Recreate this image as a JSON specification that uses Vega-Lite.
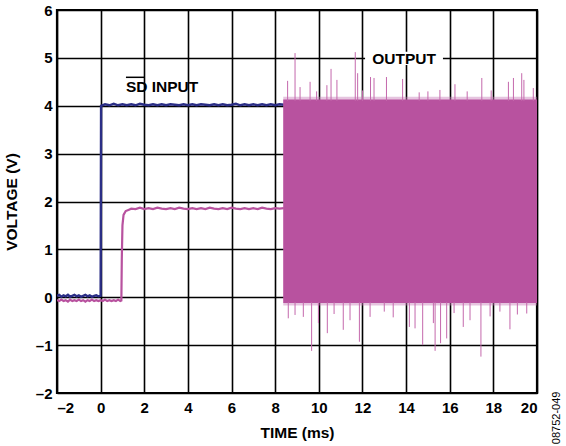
{
  "$schema": "https://vega.github.io/schema/vega-lite/v6.json",
  "width": 480,
  "height": 383,
  "autosize": {"type": "none"},
  "padding": {"left": 57, "top": 10, "right": 29, "bottom": 53},
  "background": "white",
  "config": {
    "view": {"stroke": "black", "strokeWidth": 2.2},
    "font": "Liberation Sans",
    "axis": {
      "grid": true, "gridColor": "black", "gridWidth": 1.6, "gridOpacity": 1,
      "domain": false, "ticks": false,
      "labelFont": "Liberation Sans", "labelFontWeight": "bold", "labelFontSize": 15, "labelColor": "black",
      "titleFont": "Liberation Sans", "titleFontWeight": "bold", "titleFontSize": 15.5, "titleColor": "black",
      "labelExpr": "datum.value < 0 ? '–' + abs(datum.value) : datum.label"
    }
  },
  "datasets": {
    "sd": [
      {"t": -2.0, "v": 0.03}, {"t": -1.9, "v": 0.05}, {"t": -1.8, "v": 0.01}, {"t": -1.7, "v": 0.04},
      {"t": -1.6, "v": 0.02}, {"t": -1.5, "v": 0.05}, {"t": -1.4, "v": 0.01}, {"t": -1.3, "v": 0.03},
      {"t": -1.2, "v": 0.05}, {"t": -1.1, "v": 0.02}, {"t": -1.0, "v": 0.04}, {"t": -0.9, "v": 0.01},
      {"t": -0.8, "v": 0.03}, {"t": -0.7, "v": 0.05}, {"t": -0.6, "v": 0.02}, {"t": -0.5, "v": 0.04},
      {"t": -0.4, "v": 0.01}, {"t": -0.3, "v": 0.03}, {"t": -0.2, "v": 0.04}, {"t": -0.1, "v": 0.02},
      {"t": 0.0, "v": 0.03}, {"t": 0.02, "v": 4.0},
      {"t": 0.2, "v": 4.03}, {"t": 0.4, "v": 4.01}, {"t": 0.6, "v": 4.04}, {"t": 0.8, "v": 4.01},
      {"t": 1.0, "v": 4.03}, {"t": 1.2, "v": 4.01}, {"t": 1.4, "v": 4.03}, {"t": 1.6, "v": 4.01},
      {"t": 1.8, "v": 4.04}, {"t": 2.0, "v": 4.02}, {"t": 2.2, "v": 4.01}, {"t": 2.4, "v": 4.03},
      {"t": 2.6, "v": 4.01}, {"t": 2.8, "v": 4.03}, {"t": 3.0, "v": 4.01}, {"t": 3.2, "v": 4.03},
      {"t": 3.4, "v": 4.02}, {"t": 3.6, "v": 4.01}, {"t": 3.8, "v": 4.03}, {"t": 4.0, "v": 4.01},
      {"t": 4.2, "v": 4.03}, {"t": 4.4, "v": 4.01}, {"t": 4.6, "v": 4.03}, {"t": 4.8, "v": 4.02},
      {"t": 5.0, "v": 4.01}, {"t": 5.2, "v": 4.03}, {"t": 5.4, "v": 4.01}, {"t": 5.6, "v": 4.03},
      {"t": 5.8, "v": 4.01}, {"t": 6.0, "v": 4.02}, {"t": 6.2, "v": 4.04}, {"t": 6.4, "v": 4.01},
      {"t": 6.6, "v": 4.03}, {"t": 6.8, "v": 4.01}, {"t": 7.0, "v": 4.03}, {"t": 7.2, "v": 4.01},
      {"t": 7.4, "v": 4.03}, {"t": 7.6, "v": 4.01}, {"t": 7.8, "v": 4.03}, {"t": 8.0, "v": 4.01},
      {"t": 8.2, "v": 4.03}, {"t": 8.4, "v": 4.02}
    ],
    "outpre": [
      {"t": -2.0, "v": -0.06}, {"t": -1.9, "v": -0.08}, {"t": -1.8, "v": -0.05}, {"t": -1.7, "v": -0.08},
      {"t": -1.6, "v": -0.06}, {"t": -1.5, "v": -0.09}, {"t": -1.4, "v": -0.05}, {"t": -1.3, "v": -0.08},
      {"t": -1.2, "v": -0.06}, {"t": -1.1, "v": -0.08}, {"t": -1.0, "v": -0.05}, {"t": -0.9, "v": -0.08},
      {"t": -0.8, "v": -0.06}, {"t": -0.7, "v": -0.09}, {"t": -0.6, "v": -0.06}, {"t": -0.5, "v": -0.08},
      {"t": -0.4, "v": -0.05}, {"t": -0.3, "v": -0.08}, {"t": -0.2, "v": -0.06}, {"t": -0.1, "v": -0.08},
      {"t": 0.0, "v": -0.06}, {"t": 0.1, "v": -0.08}, {"t": 0.2, "v": -0.05}, {"t": 0.3, "v": -0.08},
      {"t": 0.4, "v": -0.06}, {"t": 0.5, "v": -0.08}, {"t": 0.6, "v": -0.06}, {"t": 0.7, "v": -0.08},
      {"t": 0.8, "v": -0.05}, {"t": 0.9, "v": -0.08}, {"t": 0.95, "v": -0.07},
      {"t": 0.97, "v": 0.8}, {"t": 1.0, "v": 1.5}, {"t": 1.05, "v": 1.72}, {"t": 1.15, "v": 1.8},
      {"t": 1.3, "v": 1.83}, {"t": 1.4, "v": 1.85},
      {"t": 1.6, "v": 1.84}, {"t": 1.8, "v": 1.87}, {"t": 2.0, "v": 1.84}, {"t": 2.2, "v": 1.86},
      {"t": 2.4, "v": 1.84}, {"t": 2.6, "v": 1.87}, {"t": 2.8, "v": 1.85}, {"t": 3.0, "v": 1.84},
      {"t": 3.2, "v": 1.86}, {"t": 3.4, "v": 1.84}, {"t": 3.6, "v": 1.87}, {"t": 3.8, "v": 1.85},
      {"t": 4.0, "v": 1.84}, {"t": 4.2, "v": 1.86}, {"t": 4.4, "v": 1.84}, {"t": 4.6, "v": 1.86},
      {"t": 4.8, "v": 1.84}, {"t": 5.0, "v": 1.87}, {"t": 5.2, "v": 1.85}, {"t": 5.4, "v": 1.84},
      {"t": 5.6, "v": 1.86}, {"t": 5.8, "v": 1.84}, {"t": 6.0, "v": 1.87}, {"t": 6.2, "v": 1.85},
      {"t": 6.4, "v": 1.84}, {"t": 6.6, "v": 1.86}, {"t": 6.8, "v": 1.84}, {"t": 7.0, "v": 1.86},
      {"t": 7.2, "v": 1.84}, {"t": 7.4, "v": 1.87}, {"t": 7.6, "v": 1.85}, {"t": 7.8, "v": 1.84},
      {"t": 8.0, "v": 1.86}, {"t": 8.2, "v": 1.85}, {"t": 8.4, "v": 1.86}
    ],
    "band": [
      {"t": 8.37, "lo": -0.12, "hi": 4.13},
      {"t": 20.0, "lo": -0.12, "hi": 4.13}
    ],
    "rag": [
      {"t": 8.37, "lo": -0.17, "hi": 4.19},
      {"t": 20.0, "lo": -0.17, "hi": 4.19}
    ],
    "spikes": [
      {"t": 8.57, "lo": 4.1, "hi": 4.52}, {"t": 8.91, "lo": 4.1, "hi": 5.1}, {"t": 9.14, "lo": 4.1, "hi": 4.39},
      {"t": 9.6, "lo": 4.1, "hi": 4.5}, {"t": 10.37, "lo": 4.1, "hi": 4.43}, {"t": 10.56, "lo": 4.1, "hi": 4.77},
      {"t": 10.83, "lo": 4.1, "hi": 4.54}, {"t": 11.67, "lo": 4.1, "hi": 5.12}, {"t": 11.78, "lo": 4.1, "hi": 4.68},
      {"t": 12.37, "lo": 4.1, "hi": 4.6}, {"t": 12.53, "lo": 4.1, "hi": 4.58}, {"t": 13.1, "lo": 4.1, "hi": 4.6},
      {"t": 13.84, "lo": 4.1, "hi": 4.56}, {"t": 15.55, "lo": 4.1, "hi": 4.33}, {"t": 16.24, "lo": 4.1, "hi": 4.45},
      {"t": 17.47, "lo": 4.1, "hi": 4.58}, {"t": 18.69, "lo": 4.1, "hi": 4.5}, {"t": 18.92, "lo": 4.1, "hi": 4.58},
      {"t": 19.3, "lo": 4.1, "hi": 4.68}, {"t": 19.4, "lo": 4.1, "hi": 4.54}, {"t": 19.83, "lo": 4.1, "hi": 4.37},
      {"t": 9.9, "lo": 4.1, "hi": 4.3}, {"t": 12.0, "lo": 4.1, "hi": 4.32}, {"t": 14.6, "lo": 4.1, "hi": 4.28},
      {"t": 15.0, "lo": 4.1, "hi": 4.3}, {"t": 16.8, "lo": 4.1, "hi": 4.3}, {"t": 17.9, "lo": 4.1, "hi": 4.32},
      {"t": 8.6, "lo": -0.44, "hi": -0.1}, {"t": 8.91, "lo": -0.37, "hi": -0.1}, {"t": 9.29, "lo": -0.41, "hi": -0.1},
      {"t": 9.67, "lo": -1.12, "hi": -0.1}, {"t": 9.98, "lo": -0.54, "hi": -0.1}, {"t": 10.39, "lo": -0.75, "hi": -0.1},
      {"t": 11.12, "lo": -0.68, "hi": -0.1}, {"t": 11.43, "lo": -0.48, "hi": -0.1}, {"t": 11.86, "lo": -0.93, "hi": -0.1},
      {"t": 12.35, "lo": -0.41, "hi": -0.1}, {"t": 13.41, "lo": -0.42, "hi": -0.1}, {"t": 14.15, "lo": -0.62, "hi": -0.1},
      {"t": 14.41, "lo": -0.65, "hi": -0.1}, {"t": 14.76, "lo": -1.0, "hi": -0.1}, {"t": 15.25, "lo": -0.54, "hi": -0.1},
      {"t": 15.33, "lo": -1.12, "hi": -0.1}, {"t": 15.58, "lo": -0.96, "hi": -0.1}, {"t": 15.86, "lo": -0.86, "hi": -0.1},
      {"t": 16.62, "lo": -0.62, "hi": -0.1}, {"t": 16.93, "lo": -0.48, "hi": -0.1}, {"t": 17.43, "lo": -1.24, "hi": -0.1},
      {"t": 17.85, "lo": -0.4, "hi": -0.1}, {"t": 18.76, "lo": -0.67, "hi": -0.1}, {"t": 19.53, "lo": -0.34, "hi": -0.1},
      {"t": 10.7, "lo": -0.35, "hi": -0.1}, {"t": 13.0, "lo": -0.3, "hi": -0.1}, {"t": 16.2, "lo": -0.33, "hi": -0.1},
      {"t": 18.3, "lo": -0.3, "hi": -0.1}, {"t": 19.1, "lo": -0.36, "hi": -0.1}
    ],
    "labelbg": [{"x1": 12.12, "x2": 15.69, "y1": 4.85, "y2": 5.13}],
    "labels": [
      {"t": 1.16, "v": 4.294, "txt": "SD INPUT"},
      {"t": 12.45, "v": 4.866, "txt": "OUTPUT"}
    ],
    "overline": [{"x1": 1.16, "x2": 2.02, "y": 4.594}],
    "code": [{"t": 20.92, "v": -2.52, "txt": "08752-049"}]
  },
  "encoding": {
    "x": {"type": "quantitative", "scale": {"domain": [-2, 20], "nice": false, "zero": false},
          "axis": {"title": "TIME (ms)", "values": [-2, 0, 2, 4, 6, 8, 10, 12, 14, 16, 18, 20], "labelPadding": 7, "titlePadding": 10}},
    "y": {"type": "quantitative", "scale": {"domain": [-2, 6], "nice": false, "zero": false},
          "axis": {"title": "VOLTAGE (V)", "values": [-2, -1, 0, 1, 2, 3, 4, 5, 6], "labelPadding": 5, "titlePadding": 16}}
  },
  "layer": [
    {
      "data": {"name": "sd"},
      "mark": {"type": "line", "color": "#2B2E86", "strokeWidth": 2.4, "clip": true},
      "encoding": {"x": {"field": "t", "type": "quantitative"}, "y": {"field": "v", "type": "quantitative"}}
    },
    {
      "data": {"name": "outpre"},
      "mark": {"type": "line", "color": "#B8529F", "strokeWidth": 2.2, "clip": true},
      "encoding": {"x": {"field": "t", "type": "quantitative"}, "y": {"field": "v", "type": "quantitative"}}
    },
    {
      "data": {"name": "rag"},
      "mark": {"type": "area", "color": "#C77DB8", "opacity": 0.45},
      "encoding": {"x": {"field": "t", "type": "quantitative"}, "y": {"field": "lo", "type": "quantitative"}, "y2": {"field": "hi"}}
    },
    {
      "data": {"name": "band"},
      "mark": {"type": "area", "color": "#B8529F", "opacity": 1},
      "encoding": {"x": {"field": "t", "type": "quantitative"}, "y": {"field": "lo", "type": "quantitative"}, "y2": {"field": "hi"}}
    },
    {
      "data": {"name": "spikes"},
      "mark": {"type": "rule", "color": "#C468AC", "strokeWidth": 1},
      "encoding": {"x": {"field": "t", "type": "quantitative"}, "y": {"field": "lo", "type": "quantitative"}, "y2": {"field": "hi"}}
    },
    {
      "data": {"name": "labelbg"},
      "mark": {"type": "rect", "color": "white"},
      "encoding": {"x": {"field": "x1", "type": "quantitative"}, "x2": {"field": "x2"}, "y": {"field": "y1", "type": "quantitative"}, "y2": {"field": "y2"}}
    },
    {
      "data": {"name": "labels"},
      "mark": {"type": "text", "align": "left", "baseline": "alphabetic", "font": "Liberation Sans", "fontWeight": "bold", "fontSize": 15.5, "color": "black"},
      "encoding": {"x": {"field": "t", "type": "quantitative"}, "y": {"field": "v", "type": "quantitative"}, "text": {"field": "txt"}}
    },
    {
      "data": {"name": "overline"},
      "mark": {"type": "rule", "color": "black", "strokeWidth": 1.5},
      "encoding": {"x": {"field": "x1", "type": "quantitative"}, "x2": {"field": "x2"}, "y": {"field": "y", "type": "quantitative"}}
    },
    {
      "data": {"name": "code"},
      "mark": {"type": "text", "angle": 270, "align": "center", "baseline": "middle", "font": "Liberation Sans", "fontSize": 11, "color": "black"},
      "encoding": {"x": {"field": "t", "type": "quantitative"}, "y": {"field": "v", "type": "quantitative"}, "text": {"field": "txt"}}
    }
  ]
}
